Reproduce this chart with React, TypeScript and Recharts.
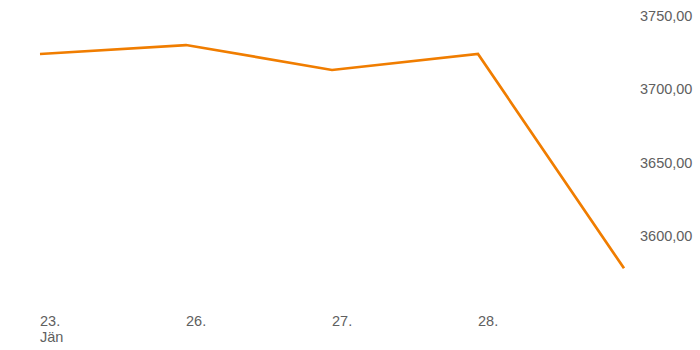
import React from "react";
import { LineChart, Line, XAxis, YAxis } from "recharts";

const days = ["23.", "26.", "27.", "28.", "29."];
const monthLabels = ["Jän", "", "", "", ""];
const prices = [3724.1, 3730.2, 3713.2, 3724.1, 3578.0];
const shownDays = ["23.", "26.", "27.", "28."];
const yTicks = [3600, 3650, 3700, 3750];

const data = days.map((d, i) => ({ day: d, month: monthLabels[i], price: prices[i] }));

const FONT = "'Liberation Sans', Arial, sans-serif";
const TEXT_COLOR = "#606060";

const XTick = (props: any) => {
  const { x, y, payload } = props;
  const idx = days.indexOf(payload.value);
  const month = idx >= 0 ? monthLabels[idx] : "";
  return (
    <text x={x} y={y} textAnchor="start" fill={TEXT_COLOR} fontSize={14.5} fontFamily={FONT}>
      <tspan x={x} dy="0.71em">{payload.value}</tspan>
      {month ? <tspan x={x} dy="1.05em">{month}</tspan> : null}
    </text>
  );
};

const YTick = (props: any) => {
  const { x, y, payload } = props;
  const label = Number(payload.value).toFixed(2).replace(".", ",");
  return (
    <text x={x} y={y} dy="0.355em" textAnchor="start" fill={TEXT_COLOR} fontSize={14.5} fontFamily={FONT}>
      {label}
    </text>
  );
};

export default function App() {
  return (
    <div style={{ position: "absolute", left: 0, top: 0, width: 700, height: 350, background: "#fff" }}>
      <LineChart width={700} height={350} data={data} margin={{ top: 0, right: 0, bottom: 0, left: 40 }}>
        <XAxis
          dataKey="day"
          scale="point"
          ticks={shownDays}
          interval={0}
          height={50}
          axisLine={false}
          tickLine={false}
          tickMargin={10}
          tick={<XTick />}
        />
        <YAxis
          orientation="right"
          width={76}
          domain={[3556.4, 3760.9]}
          ticks={yTicks}
          allowDataOverflow
          axisLine={false}
          tickLine={false}
          tickMargin={10}
          tick={<YTick />}
        />
        <Line
          type="linear"
          dataKey="price"
          stroke="#F07D00"
          strokeWidth={2.7}
          dot={false}
          activeDot={false}
          isAnimationActive={false}
        />
      </LineChart>
    </div>
  );
}
